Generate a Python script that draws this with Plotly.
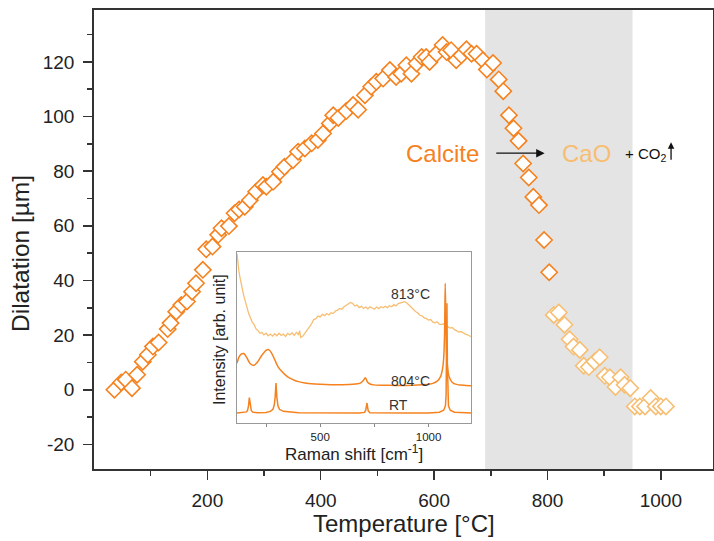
import plotly.graph_objects as go

# ---------------- main dilatometry data ----------------
temp_calcite = [36, 48, 56, 67, 76, 86, 95, 104, 114, 130, 135, 145, 154, 164, 173, 180, 192, 198, 209, 219,
                225, 238, 248, 256, 266, 275, 286, 298, 304, 316, 328, 336, 351, 360, 372, 384, 395, 404, 416, 422,
                431, 445, 457, 466, 478, 489, 498, 510, 522, 533, 542, 551, 560, 569, 578, 586, 592, 604, 615, 622,
                630, 639, 648, 657, 666, 675, 686, 693, 704, 714, 722, 732, 740, 749, 757, 767, 775, 785, 794, 803]
dil_calcite = [0, 2.7, 3.7, 0.6, 5.5, 10.3, 12.8, 15.8, 17.3, 22.2, 24.4, 28.6, 31, 32.3, 35.9, 39, 43.9, 51.4, 52.4, 56.7,
               59.1, 59.9, 64.6, 66, 67, 69.4, 72.5, 74.9, 74.3, 76.1, 79.8, 81.6, 84, 87.1, 88.3, 90.2, 91.4, 93.8, 97.5, 100.5,
               99.5, 102, 104.2, 102.5, 107.8, 110.9, 112.7, 113.9, 117, 114.5, 115.7, 118.8, 115.7, 119.4, 121.8, 121.8, 120, 123, 126.2, 123.6,
               124.3, 120.6, 122.4, 124.6, 123, 123, 120.6, 117.2, 119.6, 113.6, 109.3, 100.5, 95.7, 91.1, 82.8, 77.7, 70.6, 67.6, 54.8, 43]

temp_cao = [811, 820, 830, 839, 846, 857, 864, 873, 883, 892, 901, 910, 920, 929, 936, 946, 954, 963, 972, 982, 991, 1000, 1009]
dil_cao = [27.4, 28.3, 23.8, 18.5, 15.8, 14.6, 8.8, 8.3, 10.3, 11.9, 5.1, 4.6, 1, 4.6, 1.8, 0.6, -6.1, -6.1, -6.1, -3, -6.1, -6.1, -6.1]

band_range = [690, 950]
x_ticks = [200, 400, 600, 800, 1000]
y_ticks = [-20, 0, 20, 40, 60, 80, 100, 120]
y_tick_text = ["-20", "0", "20", "40", "60", "80", "100", "120"]

# ---------------- inset Raman spectra ----------------
shift_813 = [116, 120, 125, 130, 136, 142, 148, 155, 162, 170, 178, 186, 195, 204, 213, 222, 231, 240, 250, 260,
             270, 280, 290, 300, 310, 320, 330, 340, 350, 360, 370, 380, 390, 400, 405, 410, 420, 430, 440, 450,
             460, 470, 480, 490, 500, 510, 520, 530, 540, 550, 560, 570, 580, 590, 600, 610, 620, 630, 640, 650,
             660, 670, 680, 690, 700, 710, 720, 730, 740, 750, 760, 770, 780, 790, 800, 810, 820, 830, 840, 850,
             860, 870, 880, 890, 900, 910, 920, 930, 940, 950, 960, 970, 980, 990, 1000, 1010, 1020, 1030, 1040, 1050,
             1060, 1070, 1080, 1090, 1100, 1110, 1120, 1130, 1140, 1150, 1160, 1170, 1180, 1190, 1196]
int_813 = [99, 93, 88.5, 85, 80, 77.5, 74, 70.5, 68, 64, 61.5, 59, 57.5, 55, 54, 52.5, 53, 51.5, 52.5, 51,
           52, 50.8, 52.2, 51, 52.5, 51.2, 52, 50.6, 52.4, 51.5, 52.8, 51.2, 53, 51.8, 54, 50, 50.8, 52.5, 54.5, 56.5,
           58, 60.5, 61, 62.5, 62, 63.5, 62.8, 64, 63.2, 64.5, 64, 65.5, 66, 67, 66.5, 68, 68.8, 69.5, 70.5, 69.8,
           68.5, 69, 67.5, 68.2, 67, 67.8, 66.8, 68, 67.2, 66.5, 67.8, 66.9, 68, 67.4, 68.3, 67.5, 68.6, 68, 69.2, 68.5,
           69.8, 70.3, 70.8, 71, 70.2, 69, 67.5, 66.5, 65.2, 64.5, 63, 62.6, 61.5, 61, 60.2, 60.5, 59, 58.6, 59.2, 57.8,
           57.5, 58, 56.8, 56.2, 55.5, 55.8, 54.6, 54, 53.2, 53.5, 52.5, 52, 51.6, 51, 50.5]

shift_804 = [116, 125, 135, 147, 160, 175, 193, 210, 230, 250, 262, 275, 290, 305, 320, 340, 360, 380, 400, 430,
             460, 500, 550, 600, 650, 685, 700, 705, 708, 712, 718, 730, 746, 780, 850, 900, 950, 1000, 1020, 1040,
             1055, 1065, 1070, 1074, 1077, 1080, 1083, 1088, 1095, 1105, 1116, 1130, 1146, 1170, 1196]
int_804 = [35, 38.5, 40.3, 40.6, 38.5, 35, 33.7, 35.5, 39.5, 42.5, 42.9, 41, 37, 33, 30.5, 28, 26.2, 25, 24.2, 23.4,
           22.9, 22.6, 22.4, 22.4, 22.6, 23.3, 25, 26, 26.5, 25.8, 24, 22.8, 22.3, 22.1, 22, 22, 22.2, 22.6, 23.2, 24.5,
           27, 32, 38, 52, 81.7, 60, 42, 32, 27, 24.5, 23.2, 22.6, 22.2, 22, 21.8]

shift_rt = [116, 150, 160, 165, 169, 173, 177, 182, 190, 210, 250, 270, 282, 288, 292, 296, 300, 305, 312, 330,
            400, 500, 600, 680, 705, 710, 713, 716, 719, 722, 730, 800, 900, 1000, 1050, 1070, 1078, 1081, 1083, 1085,
            1087, 1089, 1092, 1100, 1120, 1196]
int_rt = [5.8, 6, 6.5, 7.5, 10, 14.8, 10, 7.2, 6.3, 6, 6.2, 6.8, 8, 10.5, 15, 23.4, 15, 10, 8, 6.8,
          6, 5.8, 5.8, 5.8, 6.2, 7.5, 9.5, 11.7, 9, 7, 6, 5.8, 5.8, 5.9, 6.3, 7.5, 10, 16, 35, 70,
          35, 16, 10, 7.5, 6.3, 5.8]

inset_ticks = [500, 1000]

DARK = "#F5821F"
PALE = "#F7BE72"
FONT = "Liberation Sans, Arial, sans-serif"

fig = go.Figure()

fig.add_shape(type="rect", xref="x", yref="y domain", x0=band_range[0], x1=band_range[1], y0=0, y1=1,
              fillcolor="#E4E4E4", line_width=0, layer="below")

fig.add_trace(go.Scatter(x=temp_calcite, y=dil_calcite, mode="markers", xaxis="x", yaxis="y",
                         marker=dict(symbol="diamond", size=12.5, color="white",
                                     line=dict(color=DARK, width=1.6)),
                         showlegend=False, hoverinfo="skip"))
fig.add_trace(go.Scatter(x=temp_cao, y=dil_cao, mode="markers", xaxis="x", yaxis="y",
                         marker=dict(symbol="diamond", size=12.5, color="white",
                                     line=dict(color=PALE, width=1.6)),
                         showlegend=False, hoverinfo="skip"))

# inset spectra
fig.add_trace(go.Scatter(x=shift_813, y=int_813, mode="lines", xaxis="x2", yaxis="y2",
                         line=dict(color=PALE, width=1.3), showlegend=False, hoverinfo="skip"))
fig.add_trace(go.Scatter(x=shift_804, y=int_804, mode="lines", xaxis="x2", yaxis="y2",
                         line=dict(color=DARK, width=1.5, shape="spline", smoothing=0.6), showlegend=False,
                         hoverinfo="skip"))
fig.add_trace(go.Scatter(x=shift_rt, y=int_rt, mode="lines", xaxis="x2", yaxis="y2",
                         line=dict(color=DARK, width=1.5), showlegend=False, hoverinfo="skip"))

W, H = 714, 541
ml, mr, mt, mb = 94, 1, 10, 72
pw, ph = W - ml - mr, H - mt - mb

def px_x(px):
    return (px - ml) / pw

def px_y(py):
    return (H - mb - py) / ph

fig.update_layout(
    width=W, height=H,
    margin=dict(l=ml, r=mr, t=mt, b=mb, autoexpand=False),
    paper_bgcolor="white", plot_bgcolor="rgba(0,0,0,0)",
    font=dict(family=FONT, color="#222"),
    xaxis=dict(range=[0, 1092], tickvals=x_ticks, ticks="outside", ticklen=9, tickwidth=1.5,
               tickcolor="#333", showline=True, linecolor="#333", linewidth=1.8, mirror=True,
               showgrid=False, zeroline=False, tickfont=dict(size=19, color="#222"),
               ticklabelstandoff=4,
               minor=dict(tickvals=[100, 300, 500, 700, 900], ticks="outside", ticklen=5,
                          tickwidth=1.5, tickcolor="#333")),
    yaxis=dict(range=[-29, 139], tickvals=y_ticks, ticktext=y_tick_text, ticks="outside", ticklen=9,
               tickwidth=1.5, tickcolor="#333", showline=True, linecolor="#333", linewidth=1.8, mirror=True,
               showgrid=False, zeroline=False, tickfont=dict(size=19, color="#222"),
               ticklabelstandoff=5,
               minor=dict(tickvals=[-10, 10, 30, 50, 70, 90, 110, 130], ticks="outside", ticklen=5,
                          tickwidth=1.5, tickcolor="#333")),
    xaxis2=dict(domain=[px_x(237), px_x(471)], anchor="y2", range=[116, 1196], tickvals=inset_ticks,
                ticks="outside", ticklen=3, tickcolor="#888", showline=True, linecolor="#999",
                linewidth=1, mirror=True, showgrid=False, zeroline=False,
                tickfont=dict(size=11.5, color="#222"),
                minor=dict(tickvals=[250, 750], ticks="outside", ticklen=3, tickcolor="#888")),
    yaxis2=dict(domain=[px_y(423), px_y(252)], anchor="x2", range=[0, 100], showticklabels=False,
                ticks="", showline=True, linecolor="#999", linewidth=1, mirror=True,
                showgrid=False, zeroline=False),
    hovermode=False,
)

# white background for inset
fig.add_shape(type="rect", xref="x2 domain", yref="y2 domain", x0=0, x1=1, y0=0, y1=1,
              fillcolor="white", line_width=0, layer="below")

ann = []
# axis titles
ann.append(dict(text="Temperature [°C]", xref="paper", yref="paper", x=0.5, y=0, yshift=-(523 - (H - mb)),
                xanchor="center", yanchor="middle", showarrow=False, font=dict(size=24, color="#222")))
ann.append(dict(text="Dilatation [µm]", xref="paper", yref="paper", x=0, xshift=20 - ml, y=px_y(254),
                xanchor="center", yanchor="middle", textangle=-90, showarrow=False,
                font=dict(size=24.5, color="#222")))
# inset titles
ann.append(dict(text="Raman shift [cm<sup>-1</sup>]", xref="paper", yref="paper", x=px_x(354), y=px_y(453),
                xanchor="center", yanchor="middle", showarrow=False, font=dict(size=17, color="#222")))
ann.append(dict(text="Intensity [arb. unit]", xref="paper", yref="paper", x=px_x(219), y=px_y(340),
                xanchor="center", yanchor="middle", textangle=-90, showarrow=False,
                font=dict(size=16, color="#222")))
# spectrum labels
for txt, cx, cy in [("813°C", 410, 294), ("804°C", 410, 381), ("RT", 398, 405)]:
    ann.append(dict(text=txt, xref="paper", yref="paper", x=px_x(cx), y=px_y(cy), xanchor="center",
                    yanchor="middle", showarrow=False, font=dict(size=14, color="#333")))
# reaction
ann.append(dict(text="Calcite", xref="x", yref="y", x=615, y=86.3, xanchor="center", yanchor="middle",
                showarrow=False, font=dict(size=24, color=DARK)))
ann.append(dict(text="", xref="x", yref="y", x=795, y=86.6, ax=707, ay=86.6, axref="x", ayref="y",
                showarrow=True, arrowhead=2, arrowsize=1.3, arrowwidth=1.3, arrowcolor="#111"))
ann.append(dict(text="CaO", xref="x", yref="y", x=869, y=86.3, xanchor="center", yanchor="middle",
                showarrow=False, font=dict(size=24, color=PALE)))
ann.append(dict(text="+ CO<sub>2</sub>", xref="x", yref="y", x=933, y=86.0, xanchor="left", yanchor="middle",
                showarrow=False, font=dict(size=15, color="#111")))
ann.append(dict(text="", xref="x", yref="y", x=1018, y=90.6, ax=1018, ay=83.6, axref="x", ayref="y",
                showarrow=True, arrowhead=2, arrowsize=1, arrowwidth=1.3, arrowcolor="#111"))

fig.update_layout(annotations=ann)
fig.write_html("out.html", config={"displayModeBar": False, "staticPlot": True},
               post_script="document.body.style.margin='0';document.body.style.padding='0';")
